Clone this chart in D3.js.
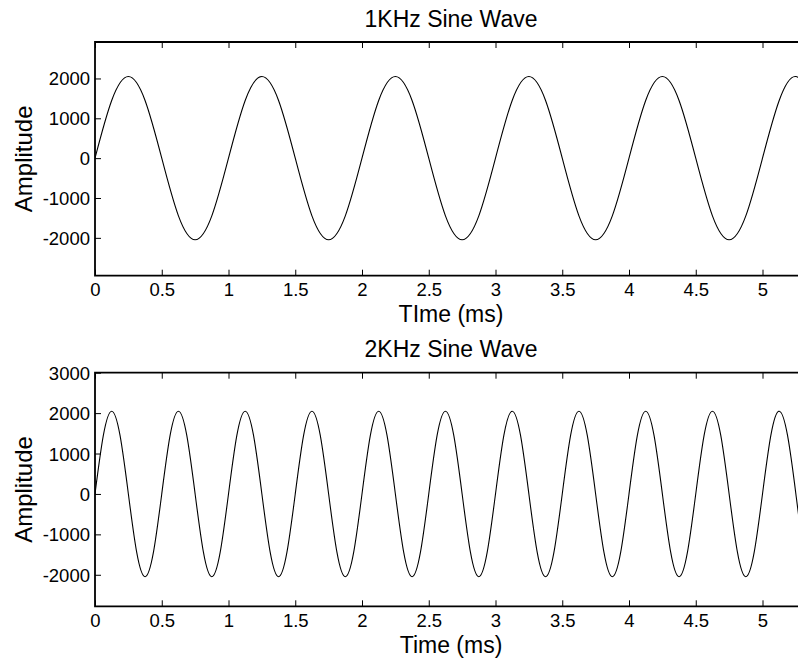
<!DOCTYPE html>
<html>
<head>
<meta charset="utf-8">
<script src="https://cdn.jsdelivr.net/npm/d3@7"></script>
<style>
  html, body { margin: 0; padding: 0; background: #fff; }
  svg { display: block; font-family: "Liberation Sans", Arial, sans-serif; }
</style>
</head>
<body>
<svg id="chart" width="798" height="658"></svg>
<script>
// ---- Data ----
const titles = ["1KHz Sine Wave", "2KHz Sine Wave"];
const xLabels = ["TIme (ms)", "Time (ms)"];
const yLabel = "Amplitude";

const xTicks = [0, 0.5, 1, 1.5, 2, 2.5, 3, 3.5, 4, 4.5, 5];
const yTicksTop = [-2000, -1000, 0, 1000, 2000];
const yTicksBottom = [-2000, -1000, 0, 1000, 2000, 3000];

const xDomain = [0, 5.3333];
const yDomainTop = [-2950, 2915];
const yDomainBottom = [-2780, 3000];

// 1 kHz wave samples (time in ms, amplitude)
const timeTop = [0,0.125,0.25,0.375,0.5,0.625,0.75,0.875,
  1,1.125,1.25,1.375,1.5,1.625,1.75,1.875,
  2,2.125,2.25,2.375,2.5,2.625,2.75,2.875,
  3,3.125,3.25,3.375,3.5,3.625,3.75,3.875,
  4,4.125,4.25,4.375,4.5,4.625,4.75,4.875,
  5,5.125,5.25,5.375];
const ampTop = [0,1448,2048,1448,0,-1448,-2048,-1448,
  0,1448,2048,1448,0,-1448,-2048,-1448,
  0,1448,2048,1448,0,-1448,-2048,-1448,
  0,1448,2048,1448,0,-1448,-2048,-1448,
  0,1448,2048,1448,0,-1448,-2048,-1448,
  0,1448,2048,1448];

// 2 kHz wave samples (time in ms, amplitude)
const timeBottom = [0,0.0625,0.125,0.1875,0.25,0.3125,0.375,0.4375,
  0.5,0.5625,0.625,0.6875,0.75,0.8125,0.875,0.9375,
  1,1.0625,1.125,1.1875,1.25,1.3125,1.375,1.4375,
  1.5,1.5625,1.625,1.6875,1.75,1.8125,1.875,1.9375,
  2,2.0625,2.125,2.1875,2.25,2.3125,2.375,2.4375,
  2.5,2.5625,2.625,2.6875,2.75,2.8125,2.875,2.9375,
  3,3.0625,3.125,3.1875,3.25,3.3125,3.375,3.4375,
  3.5,3.5625,3.625,3.6875,3.75,3.8125,3.875,3.9375,
  4,4.0625,4.125,4.1875,4.25,4.3125,4.375,4.4375,
  4.5,4.5625,4.625,4.6875,4.75,4.8125,4.875,4.9375,
  5,5.0625,5.125,5.1875,5.25,5.3125,5.375];
const ampBottom = [0,1448,2048,1448,0,-1448,-2048,-1448,
  0,1448,2048,1448,0,-1448,-2048,-1448,
  0,1448,2048,1448,0,-1448,-2048,-1448,
  0,1448,2048,1448,0,-1448,-2048,-1448,
  0,1448,2048,1448,0,-1448,-2048,-1448,
  0,1448,2048,1448,0,-1448,-2048,-1448,
  0,1448,2048,1448,0,-1448,-2048,-1448,
  0,1448,2048,1448,0,-1448,-2048,-1448,
  0,1448,2048,1448,0,-1448,-2048,-1448,
  0,1448,2048,1448,0,-1448,-2048,-1448,
  0,1448,2048,1448,0,-1448,-2048];

// ---- Layout ----
const svg = d3.select("#chart");
const axLeft = 95, axRight = 807;

const panels = [
  { title: titles[0], xlabel: xLabels[0], top: 42, bottom: 275.7,
    yDomain: yDomainTop, yTicks: yTicksTop, t: timeTop, v: ampTop },
  { title: titles[1], xlabel: xLabels[1], top: 372.7, bottom: 606.3,
    yDomain: yDomainBottom, yTicks: yTicksBottom, t: timeBottom, v: ampBottom }
];

const defs = svg.append("defs");
const plainNum = d => String(d); // hyphen-minus like the reference

panels.forEach((p, i) => {
  const x = d3.scaleLinear().domain(xDomain).range([axLeft, axRight]);
  const y = d3.scaleLinear().domain(p.yDomain).range([p.bottom, p.top]);
  const g = svg.append("g");

  const clipId = "clip" + i;
  defs.append("clipPath").attr("id", clipId)
    .append("rect").attr("x", axLeft).attr("y", p.top)
    .attr("width", axRight - axLeft).attr("height", p.bottom - p.top);

  // curve
  const pts = p.t.map((t, k) => [t, p.v[k]]);
  const line = d3.line().x(d => x(d[0])).y(d => y(d[1])).curve(d3.curveNatural);
  g.append("path").datum(pts)
    .attr("clip-path", `url(#${clipId})`)
    .attr("d", line)
    .attr("fill", "none").attr("stroke", "#000").attr("stroke-width", 1.1);

  const tickLen = 6;
  const xb = g.append("g").attr("transform", `translate(0,${p.bottom})`)
    .call(d3.axisBottom(x).tickValues(xTicks).tickSize(-tickLen).tickFormat(plainNum));
  const xt = g.append("g").attr("transform", `translate(0,${p.top})`)
    .call(d3.axisTop(x).tickValues(xTicks).tickSize(-tickLen).tickFormat(""));
  const yl = g.append("g").attr("transform", `translate(${axLeft},0)`)
    .call(d3.axisLeft(y).tickValues(p.yTicks).tickSize(-tickLen).tickFormat(plainNum));

  [xb, xt, yl].forEach(a => {
    a.select(".domain").remove();
    a.selectAll(".tick line").attr("stroke", "#000").attr("stroke-width", 1);
    a.selectAll(".tick text").attr("fill", "#000")
      .style("font-family", '"Liberation Sans", Arial, sans-serif')
      .style("font-size", "18.5px");
  });
  yl.selectAll(".tick text").attr("x", -5).attr("dy", "0.35em");
  xb.selectAll(".tick text").attr("y", 7.5).attr("dy", "0.71em");

  // box (left, top, bottom; right side lies outside the picture)
  g.append("path")
    .attr("d", `M${axRight},${p.top}H${axLeft}V${p.bottom}H${axRight}`)
    .attr("fill", "none").attr("stroke", "#000").attr("stroke-width", 1.8);

  const cx = (axLeft + axRight) / 2;
  g.append("text").attr("x", cx).attr("y", p.top - 15.5)
    .attr("text-anchor", "middle").style("font-size", "23px").text(p.title);
  g.append("text").attr("x", cx).attr("y", p.bottom + 46.5)
    .attr("text-anchor", "middle").style("font-size", "23px").text(p.xlabel);
  g.append("text")
    .attr("transform", `translate(32,${(p.top + p.bottom) / 2}) rotate(-90)`)
    .attr("text-anchor", "middle").style("font-size", "24px").text(yLabel);
});
</script>
</body>
</html>
